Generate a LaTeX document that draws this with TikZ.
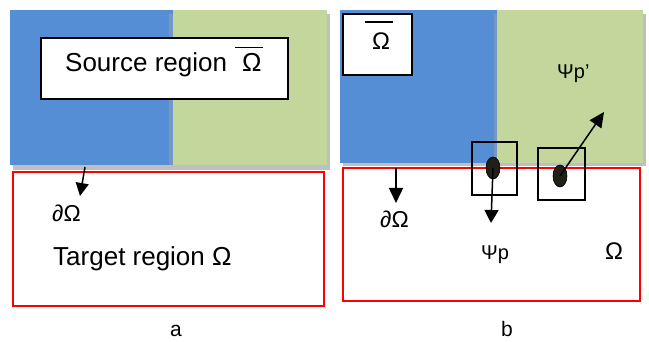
\documentclass[tikz,border=0pt]{standalone}
\usepackage{fontspec}
\setmainfont{Liberation Sans}
\usetikzlibrary{arrows.meta,shapes.geometric,calc}
\definecolor{regionblue}{HTML}{558ED5}
\definecolor{regiongreen}{HTML}{C3D69B}
\definecolor{pixelfill}{HTML}{201F18}
\begin{document}
\begin{tikzpicture}[x=1pt,y=-1pt,
  shadow/.style={fill=black!55,opacity=0.45},
  boundary/.style={draw=red,line width=1.6pt},
  labelbox/.style={draw=black,line width=1.5pt,fill=white},
  patch/.style={draw=black,line width=1.3pt},
  pixel/.style={ellipse,draw=black,line width=0.6pt,fill=pixelfill,minimum width=14pt,minimum height=22pt,inner sep=0pt},
  normal/.style={line width=1.5pt,-{Triangle[length=14pt,width=14pt]}},
  txt/.style={inner sep=0pt,anchor=base west},
  big/.style={font=\fontsize{26}{30}\selectfont},
  mid/.style={font=\fontsize{23}{27}\selectfont},
  small/.style={font=\fontsize{20}{24}\selectfont},
  bar/.style={line width=1.6pt},
]
\useasboundingbox (0,0) rectangle (649,342);
\fill[white] (0,0) rectangle (649,342);

% ---------- panel a ----------
% source region (blue and green halves) with drop shadow
\fill[shadow] (13,14) rectangle (330,170);
\fill[regionblue] (10,10) rectangle (173,165);
\fill[black!35,opacity=0.4] (169,14) rectangle (176,165);
\fill[regiongreen] (173,10) rectangle (327,165);
% target region
\draw[boundary] (13,172) rectangle (324,306);
% label of the source region
\draw[labelbox] (41,38) rectangle (288,99);
\node[txt,big] (srcA) at (65,72) {Source region};
\node[txt,big] (omA) at (242,72) {Ω};
\draw[bar] ($(omA.north west)+(-7,-6)$) -- ($(omA.north east)+(1,-6)$);
% boundary normal
\coordinate (bA0) at (85,167);
\coordinate (bA1) at (80,196);
\draw[normal,-{Triangle[length=13pt,width=13pt]}] (bA0) -- (bA1);
\node[txt,mid] (dA) at (52,222) {∂Ω};
\node[txt,big] (tgtA) at (53,266) {Target region Ω};
\node[inner sep=0pt,anchor=base,font=\fontsize{21}{25}\selectfont] (capA) at (176,337) {a};

% ---------- panel b ----------
\fill[shadow] (343,14) rectangle (646,166);
\fill[regionblue] (340,10) rectangle (497,163);
\fill[black!35,opacity=0.4] (494,14) rectangle (500,163);
\fill[regiongreen] (497,10) rectangle (643,163);
\draw[boundary] (343,168) rectangle (640,301);
% small label box
\draw[labelbox] (343,14) rectangle (412,75);
\node[txt,font=\fontsize{24}{28}\selectfont] (omB) at (372,50) {Ω};
\draw[bar] ($(omB.north west)+(-7,-11)$) -- ($(omB.north east)+(3,-11)$);
% boundary normal
\coordinate (bB0) at (396,168);
\coordinate (bB1) at (396,203);
\draw[normal,-{Triangle[length=15pt,width=14pt]}] (bB0) -- (bB1);
\node[txt,mid] (dB) at (380,228) {∂Ω};
% patches and their centre pixels
\draw[patch] (472,142) rectangle (517,195);
\draw[patch] (538,148) rectangle (585,200);
\node[pixel] (p) at (493,168) {};
\node[pixel] (q) at (560,176) {};
\coordinate (pEnd) at (491,223);
\coordinate (qEnd) at (604,112);
\draw[normal,-{Triangle[length=13pt,width=14pt]}] (p.center) -- (pEnd);
\draw[normal,-{Triangle[length=15pt,width=14pt]}] (q.center) -- (qEnd);
\node[txt,small] (psiq) at (557,79) {Ψp’};
\node[txt,small] (psip) at (481,260) {Ψp};
\node[txt,font=\fontsize{24}{28}\selectfont] (omT) at (605,260) {Ω};
\node[inner sep=0pt,anchor=base,font=\fontsize{21}{25}\selectfont] (capB) at (507,337) {b};
\end{tikzpicture}
\end{document}
